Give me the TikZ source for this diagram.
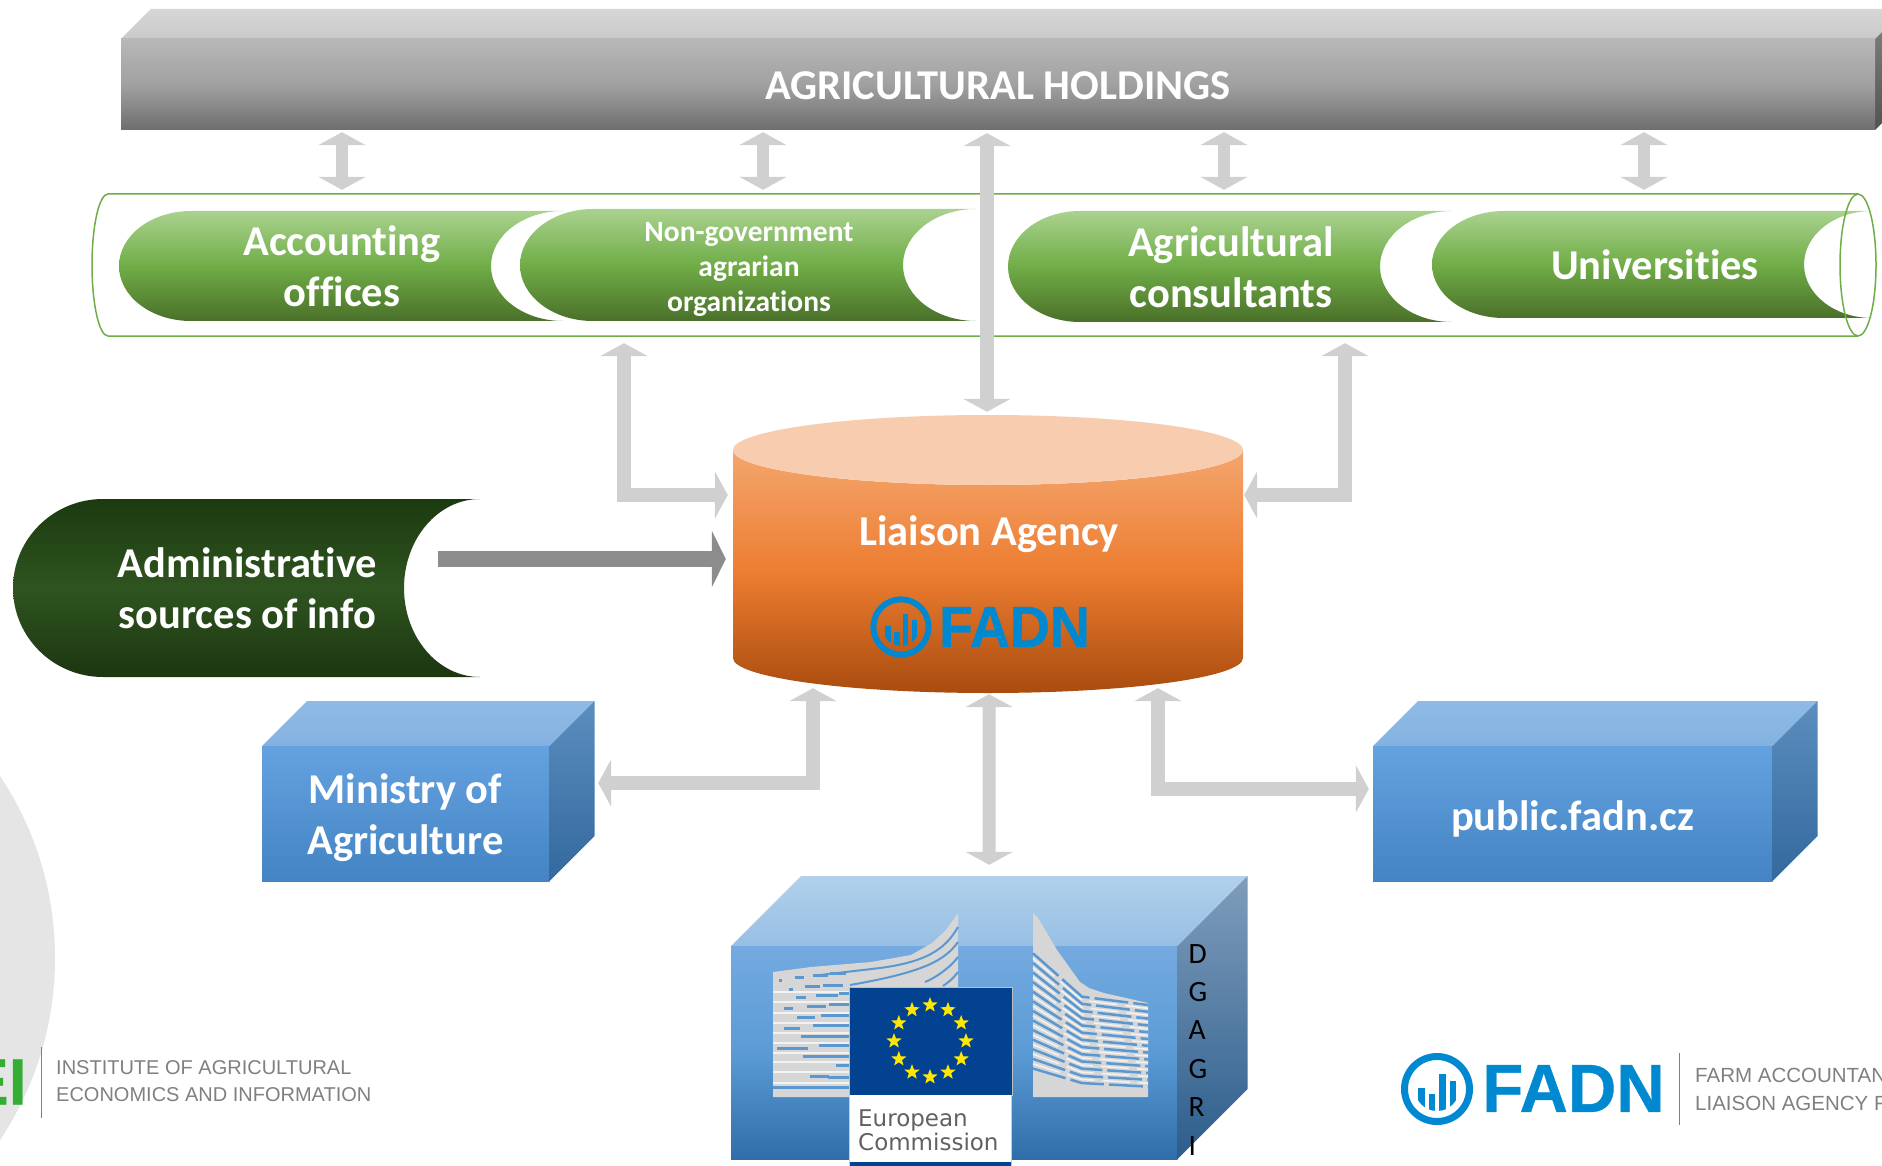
\documentclass[tikz,border=0pt]{standalone}
\usepackage{fontspec}
\usetikzlibrary{arrows.meta,calc,shapes.geometric}
\setmainfont[Ligatures=NoCommon]{Carlito}
\newfontfamily\logofont[BoldFeatures={FakeBold=0.6}]{Liberation Sans}
\newfontfamily\ecfont{DejaVu Sans}
\definecolor{arrowgray}{HTML}{D0D0D0}
\definecolor{fadnblue}{HTML}{0089D0}
\definecolor{tubegreen}{HTML}{70AD47}
\definecolor{ecblue}{HTML}{034191}
\definecolor{stripeblue}{HTML}{5C98D0}
\definecolor{F4A66E}{HTML}{F4A66E}
\definecolor{ED7D31}{HTML}{ED7D31}
\definecolor{A94C0E}{HTML}{A94C0E}
\definecolor{F8CDAF}{HTML}{F8CDAF}
\definecolor{AAD28F}{HTML}{AAD28F}
\definecolor{70AD47}{HTML}{70AD47}
\definecolor{4A7029}{HTML}{4A7029}
\definecolor{1C3A10}{HTML}{1C3A10}
\definecolor{2F5420}{HTML}{2F5420}
\definecolor{1C3610}{HTML}{1C3610}
\definecolor{B2D0EC}{HTML}{B2D0EC}
\definecolor{97BFE4}{HTML}{97BFE4}
\definecolor{74AAE0}{HTML}{74AAE0}
\definecolor{5B9BD5}{HTML}{5B9BD5}
\definecolor{2F6EA8}{HTML}{2F6EA8}
\definecolor{7F9DBB}{HTML}{7F9DBB}
\definecolor{2C5D8C}{HTML}{2C5D8C}
\definecolor{8FBAE6}{HTML}{8FBAE6}
\definecolor{84B2E0}{HTML}{84B2E0}
\definecolor{64A1DF}{HTML}{64A1DF}
\definecolor{4484C4}{HTML}{4484C4}
\definecolor{5C8DBE}{HTML}{5C8DBE}
\definecolor{33699E}{HTML}{33699E}
\tikzset{
  lbl/.style={font=\bfseries\fontsize{42.5}{51}\selectfont,text=white,align=center,inner sep=0pt},
  lblsmall/.style={lbl,font=\bfseries\fontsize{29.5}{35}\selectfont},
  greenshade/.style={top color=AAD28F,bottom color=4A7029,middle color=70AD47},
  darkshade/.style={top color=1C3A10,bottom color=1C3610,middle color=2F5420},
  bluetop/.style={top color=B2D0EC,bottom color=97BFE4},
  bluefront/.style={top color=74AAE0,bottom color=2F6EA8,middle color=5B9BD5},
  blueside/.style={top color=7F9DBB,bottom color=2C5D8C},
  smalltop/.style={top color=8FBAE6,bottom color=84B2E0},
  smallfront/.style={top color=64A1DF,bottom color=4484C4},
  smallside/.style={top color=5C8DBE,bottom color=33699E},
  biarrow/.style={draw=arrowgray,line width=#1,line join=miter,
    arrows={Triangle[width=47pt,length=13pt,fill=arrowgray]-Triangle[width=47pt,length=13pt,fill=arrowgray]}},
  biarrow/.default=12pt,
  adminarrow/.style={draw=black!45,line width=16pt,
    arrows={-Triangle[width=56pt,length=14pt,fill=black!45]}},
  star5/.style={star,star points=5,star point ratio=2.4,fill=yellow!90!orange,inner sep=0pt,minimum size=16pt},
  bluedash/.style={draw=stripeblue,line width=3pt},
  whitedash/.style={draw=white!90!gray,line width=2pt},
  greytext/.style={font=\logofont\fontsize{20}{27}\selectfont,text=black!50,align=left,inner sep=0pt,anchor=west},
  greytextB/.style={font=\logofont\fontsize{20.5}{28}\selectfont,text=black!50,align=left,inner sep=0pt,anchor=west}
}
% name, l, t, r, b, left rx, right rx, shade, node
\newcommand\pillshape[9]{%
  \shade[#8] ({#2+#6},#5) arc[start angle=90,end angle=270,x radius=#6,y radius={(#5-#3)/2}]
     -- (#4,#3) arc[start angle=270,end angle=90,x radius=#7,y radius={(#5-#3)/2}] -- cycle;
  #9}
% l, t, r, b, depth, top, front, side
\newcommand\blockshape[8]{%
  \shade[#6] (#1,#2) -- ({#1+#5},{#2-#5}) -- ({#3+#5},{#2-#5}) -- (#3,#2) -- cycle;
  \shade[#7] (#1,#2) rectangle (#3,#4);
  \shade[#8] (#3,#2) -- ({#3+#5},{#2-#5}) -- ({#3+#5},{#4-#5}) -- (#3,#4) -- cycle;}
\newcommand\fadnlogo[3]{%
  \begin{scope}[shift={(#1,#2)},scale=#3]
    \draw[fadnblue,line width=#3*7pt] (0,0) circle (32.5);
    \begin{scope}
      \clip (0,0) circle (22);
      \fill[fadnblue] (-19,-1.3) rectangle (-12.3,30);
      \fill[fadnblue] (-8.3,5.3) rectangle (-1.7,30);
      \fill[fadnblue] (2,-15) rectangle (8.7,30);
      \fill[fadnblue] (12.7,-8.3) rectangle (19.3,30);
    \end{scope}
  \end{scope}}
\begin{document}
\begin{tikzpicture}[x=1pt,y=-1pt]
\useasboundingbox (0,0) rectangle (1882,1166);
\fill[white] (0,0) rectangle (1882,1166);

% IEI backdrop and logo
\begin{scope}
  \clip (0,0) rectangle (1882,1166);
  \fill[black!10] (-273.6,958) circle (328.6);
  \node[font=\logofont\bfseries\fontsize{65}{65}\selectfont,text=green!60!black!80!white,anchor=east,inner sep=0pt] (ieilogo) at (27,1082) {EI};
\end{scope}
\draw[black!50,line width=1pt] (41.7,1047) -- (41.7,1118);
\node[greytext] (iei1) at (56,1068) {INSTITUTE OF AGRICULTURAL};
\node[greytext] (iei2) at (56,1095) {ECONOMICS AND INFORMATION};

% Agricultural holdings block
\shade[top color=black!16,bottom color=black!21] (121,39) -- (151,9) -- (1882,9) -- (1882,32) -- (1875,39) -- cycle;
\shade[top color=black!52,bottom color=black!68] (1875,39) -- (1882,32) -- (1882,123) -- (1875,130) -- cycle;
\shade[top color=black!28,bottom color=black!57,middle color=black!37] (121,39) rectangle (1875,130);
\node[lbl,minimum width=1754pt,minimum height=91pt] (hold) at (998,85.5) {AGRICULTURAL HOLDINGS};

% Tube
\filldraw[fill=white,draw=tubegreen,line width=1.5pt] (1858,194) -- (108,194)
   arc[start angle=270,end angle=90,x radius=16,y radius=71] -- (1858,336);
\node[minimum width=1784pt,minimum height=142pt,inner sep=0pt] (tube) at (984,265) {};

\pillshape{acc}{119}{211}{563}{321}{72}{72}{greenshade}{\node[lbl,minimum width=444pt,minimum height=110pt] (acc) at (342,266) {Accounting\\offices};}
\pillshape{ngo}{520}{209}{976}{321}{73}{73}{greenshade}{\node[lblsmall,minimum width=456pt,minimum height=112pt] (ngo) at (749,269) {Non-government\\agrarian\\organizations};}
\pillshape{agr}{1008}{211}{1452}{322}{72}{72}{greenshade}{\node[lbl,minimum width=444pt,minimum height=111pt] (agr) at (1231,267) {Agricultural\\consultants};}
\pillshape{uni}{1432}{211}{1872}{318}{72}{68}{greenshade}{\node[lbl,minimum width=440pt,minimum height=107pt] (uni) at (1655,264.5) {Universities};}
\draw[tubegreen,line width=1.5pt] (1858,265) ellipse [x radius=18,y radius=71];

% Administrative sources
\pillshape{admin}{13}{499}{480}{677}{90}{76}{darkshade}{\node[lbl,minimum width=467pt,minimum height=178pt] (admin) at (247.5,588) {Administrative\\sources of info};}

% Liaison cylinder
\shade[top color=F4A66E,bottom color=A94C0E,middle color=ED7D31] (733,450) -- (733,658)
   arc[start angle=180,end angle=0,x radius=255,y radius=35] -- (1243,450)
   arc[start angle=0,end angle=180,x radius=255,y radius=35] -- cycle;
\fill[F8CDAF] (988,450) ellipse [x radius=255,y radius=35];
\node[minimum width=510pt,minimum height=278pt,inner sep=0pt] (liaison) at (988,554) {};
\node[lbl] (liaisonlabel) at (989,534) {Liaison Agency};
\fadnlogo{901}{627}{0.85}
\node[font=\logofont\bfseries\fontsize{58}{58}\selectfont,text=fadnblue,inner sep=0pt] (fadnA) at (1014.5,627) {\scalebox{.955}[1]{FADN}};

% Ministry and public site
\blockshape{262}{746}{549.5}{881}{45}{smalltop}{smallfront}{smallside}
\node[lbl,minimum width=287pt,minimum height=136pt] (min) at (405.5,818) {Ministry of\\Agriculture};
\blockshape{1373}{746}{1772.5}{881}{45}{smalltop}{smallfront}{smallside}
\node[lbl,minimum width=399pt,minimum height=135pt] (pub) at (1572.5,819) {public.fadn.cz};

% DG AGRI block
\blockshape{731}{946}{1177.5}{1159}{70}{bluetop}{bluefront}{blueside}
\node[minimum width=446.5pt,minimum height=213pt,inner sep=0pt] (dg) at (954.25,1052.5) {};

% Left Berlaymont wing
\fill[black!16] (773,972) -- (811,967) -- (871,962) -- (911,955) -- (932,943) -- (946,930) -- (958,913) -- (958,1000) -- (958,1097) -- (773,1097) -- cycle;
\foreach \a/\b/\c in {204/416/395,204/416/425,204/416/458,204/416/488,204/416/520,204/416/548,204/416/578,204/416/607,204/416/635,204/416/668}
  \draw[whitedash] ({700+\a/2.8},{860+\c/3}) -- ({700+\b/2.8},{860+\c/3});
\foreach \a/\b/\c in {222/230/360,265/290/353,315/358/347,365/410/340,248/260/387,295/335/380,345/400/375,270/298/412,325/385/406,388/416/400,235/260/445,300/352/438,362/416/432,272/322/472,338/416/465,235/280/505,315/416/497,282/416/530,216/302/564,332/416/556,288/416/590,380/416/617,307/360/648,358/416/652,204/416/682}
  \draw[bluedash] ({700+\a/2.8},{860+\c/3}) -- ({700+\b/2.8},{860+\c/3});
\draw[bluedash,line width=2pt] (958,927) .. controls (945,950) and (925,962) .. (880,968) -- (820,975);
\draw[bluedash,line width=2pt] (958,942) .. controls (945,960) and (925,972) .. (850,985);
\draw[bluedash,line width=2pt] (958,957) .. controls (950,968) and (935,978) .. (925,982);
\draw[bluedash,line width=2pt] (958,972) .. controls (952,980) and (947,983) .. (943,986);

% Right Berlaymont wing
\fill[black!16] (1033,913) -- (1037.5,917) -- (1057,950) -- (1080,982) -- (1089,988) -- (1104,993) -- (1148,1003) -- (1148,1097) -- (1033,1097) -- cycle;
\foreach \t in {0,0.08,...,1.01}
  \draw[bluedash,line width=2.5pt,dash pattern=on 34pt off 5pt] (1033,{860+(280+360*\t)/3}) -- (1082,{860+(410+270*\t)/3}) -- (1148,{860+(435+255*\t)/3});
\foreach \t in {0.04,0.12,...,0.95}
  \draw[whitedash,line width=1.5pt,dash pattern=on 28pt off 8pt] (1033,{860+(280+360*\t)/3}) -- (1082,{860+(410+270*\t)/3}) -- (1148,{860+(435+255*\t)/3});

% EC flag panel
\draw[black!25,line width=1pt,fill=ecblue] (849,987) rectangle (1012,1095);
\fill[white] (849,1095) rectangle (1011,1162);
\fill[ecblue] (849,1162) rectangle (1011,1166);
\draw[black!20,line width=1pt] (849,1095) -- (849,1166) (1011,1095) -- (1011,1166);
\foreach \i in {0,...,11}
  \node[star5] (ecstar\i) at ({930+36*cos(30*\i)},{1041+36*sin(30*\i)}) {};
\node[font=\ecfont\fontsize{23}{24}\selectfont,text=black!62,align=left,inner sep=0pt,anchor=west] (eclabel) at (858,1130) {European\\Commission};

% DG AGRI text
\node[font=\fontsize{29.5}{38.4}\selectfont,text=black,align=left,inner sep=0pt,anchor=north west] (dgtext) at (1188.5,944) {D\\G\\A\\G\\R\\I};

% FADN logo, bottom right
\fadnlogo{1437}{1089}{1}
\node[font=\logofont\bfseries\fontsize{68}{68}\selectfont,text=fadnblue,inner sep=0pt] (fadnB) at (1573.5,1088.5) {\scalebox{.985}[1]{FADN}};
\draw[black!50,line width=1pt] (1679,1053) -- (1679,1125);
\begin{scope}
  \clip (0,0) rectangle (1882,1166);
  \node[greytextB] (fadn1) at (1695,1075) {FARM ACCOUNTAN};
  \node[greytextB] (fadn2) at (1695,1103) {LIAISON AGENCY FA};
\end{scope}

% Block arrows
\draw[biarrow] ($(hold.south -| acc)+(0,1)$) -- ($(tube.north -| acc)+(0,-4)$);
\draw[biarrow] ($(hold.south -| ngo)+(14,1)$) -- ($(tube.north -| ngo)+(14,-4)$);
\draw[biarrow] ($(hold.south -| agr)+(-7,1)$) -- ($(tube.north -| agr)+(-7,-4)$);
\draw[biarrow] ($(hold.south -| uni)+(-11,1)$) -- ($(tube.north -| uni)+(-11,-4)$);
\draw[biarrow=14pt] ($(hold.south -| liaison)+(-1,2)$) -- ($(liaison.north)+(-1,-3)$);
\draw[biarrow=14pt] ($(tube.south -| ngo)+(-125,7)$) |- ($(liaison.west)+(-5,-59)$);
\draw[biarrow=14pt] ($(tube.south -| agr)+(114,7)$) |- ($(liaison.east)+(1,-59)$);
\draw[biarrow=14pt] ($(min.east)+(49,-35)$) -| ($(liaison.south)+(-175,-5)$);
\draw[biarrow=13pt] ($(liaison.south)+(1,1)$) -- ($(dg.north)+(35,-81)$);
\draw[biarrow=14pt] ($(liaison.south)+(170,-5)$) |- ($(pub.west)+(-4,-30)$);
\draw[adminarrow] ($(admin.east)+(-43,-29)$) -- ($(liaison.west)+(-7,5)$);
\end{tikzpicture}
\end{document}
